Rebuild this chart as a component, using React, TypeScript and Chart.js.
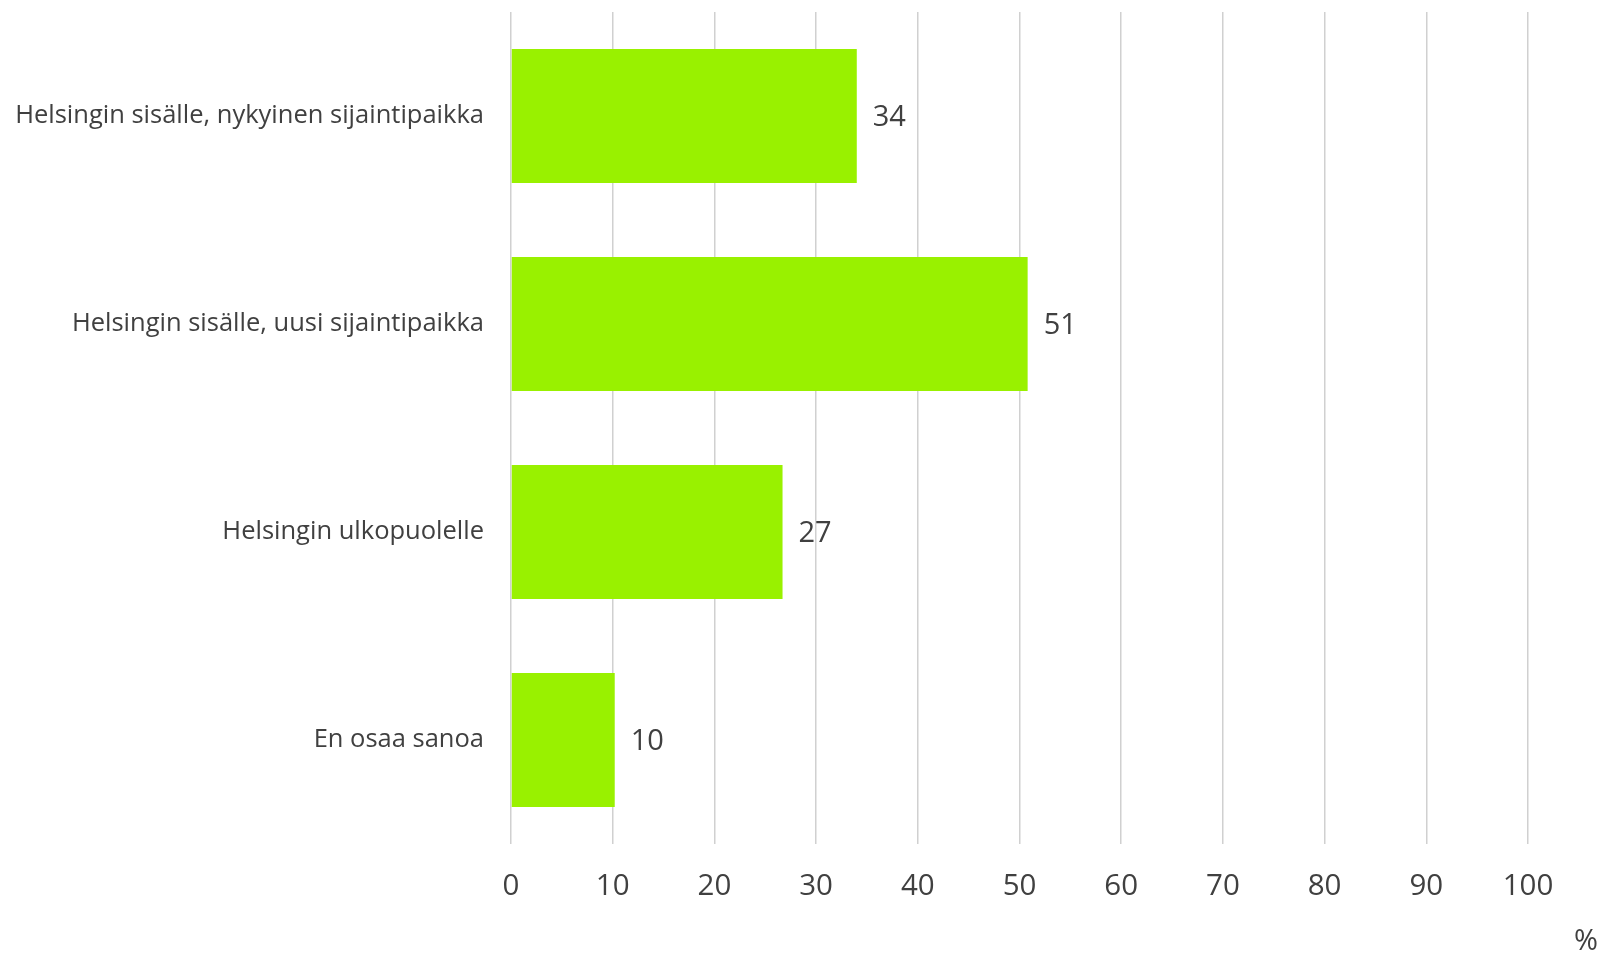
import React, { useEffect, useRef } from "react";
import { Chart, registerables } from "chart.js";

Chart.register(...registerables);

const categories = [
  "Helsingin sisälle, nykyinen sijaintipaikka",
  "Helsingin sisälle, uusi sijaintipaikka",
  "Helsingin ulkopuolelle",
  "En osaa sanoa",
];
const values = [34.0, 50.8, 26.7, 10.2];
const valueLabels = ["34", "51", "27", "10"];
const xTickValues = [0, 10, 20, 30, 40, 50, 60, 70, 80, 90, 100];
const unitLabel = "%";

const FONT = "'Open Sans', sans-serif";
const TEXT = "#404040";

export default function App() {
  const ref = useRef<HTMLCanvasElement | null>(null);

  useEffect(() => {
    if (!ref.current) return;

    const valueLabelPlugin = {
      id: "valueLabels",
      afterDatasetsDraw(chart: any) {
        const ctx = chart.ctx;
        const meta = chart.getDatasetMeta(0);
        ctx.save();
        ctx.font = `29px ${FONT}`;
        ctx.fillStyle = TEXT;
        ctx.textAlign = "left";
        ctx.textBaseline = "middle";
        meta.data.forEach((el: any, i: number) => {
          ctx.fillText(valueLabels[i], el.x + 16, el.y + 2);
        });
        ctx.restore();
      },
    };

    const unitPlugin = {
      id: "unitLabel",
      afterDraw(chart: any) {
        const ctx = chart.ctx;
        ctx.save();
        ctx.font = `29px ${FONT}`;
        ctx.fillStyle = TEXT;
        ctx.textAlign = "right";
        ctx.textBaseline = "middle";
        ctx.fillText(unitLabel, chart.width - 4, 942);
        ctx.restore();
      },
    };

    const chart = new Chart(ref.current, {
      type: "bar",
      data: {
        labels: categories,
        datasets: [
          {
            data: values,
            backgroundColor: "#99F100",
            borderWidth: 0,
            barPercentage: 0.644,
            categoryPercentage: 1.0,
          },
        ],
      },
      options: {
        indexAxis: "y",
        animation: false,
        responsive: true,
        maintainAspectRatio: false,
        layout: { padding: { top: 12, right: 74, left: 0, bottom: 0 } },
        plugins: {
          legend: { display: false },
          tooltip: { enabled: false },
        },
        scales: {
          x: {
            type: "linear",
            min: 0,
            max: 100,
            afterBuildTicks: (scale: any) => {
              scale.ticks = xTickValues.map((v) => ({ value: v }));
            },
            afterFit: (scale: any) => {
              scale.height = 109;
            },
            grid: {
              color: "#d0d0d0",
              lineWidth: 1.5,
              drawTicks: false,
            },
            border: { display: false },
            ticks: {
              padding: 25,
              color: TEXT,
              font: { family: FONT, size: 29.5 },
              maxRotation: 0,
            },
          },
          y: {
            afterFit: (scale: any) => {
              scale.width = 511;
              scale.paddingTop = 0;
              scale.paddingBottom = 0;
            },
            grid: { display: false, drawTicks: false },
            border: { display: false },
            ticks: {
              padding: 27,
              color: TEXT,
              font: { family: FONT, size: 25.5 },
            },
          },
        },
      },
      plugins: [valueLabelPlugin, unitPlugin],
    });

    return () => chart.destroy();
  }, []);

  return (
    <div
      style={{
        position: "fixed",
        left: 0,
        top: 0,
        width: 1602,
        height: 953,
        background: "#fff",
      }}
    >
      <canvas ref={ref} />
    </div>
  );
}
